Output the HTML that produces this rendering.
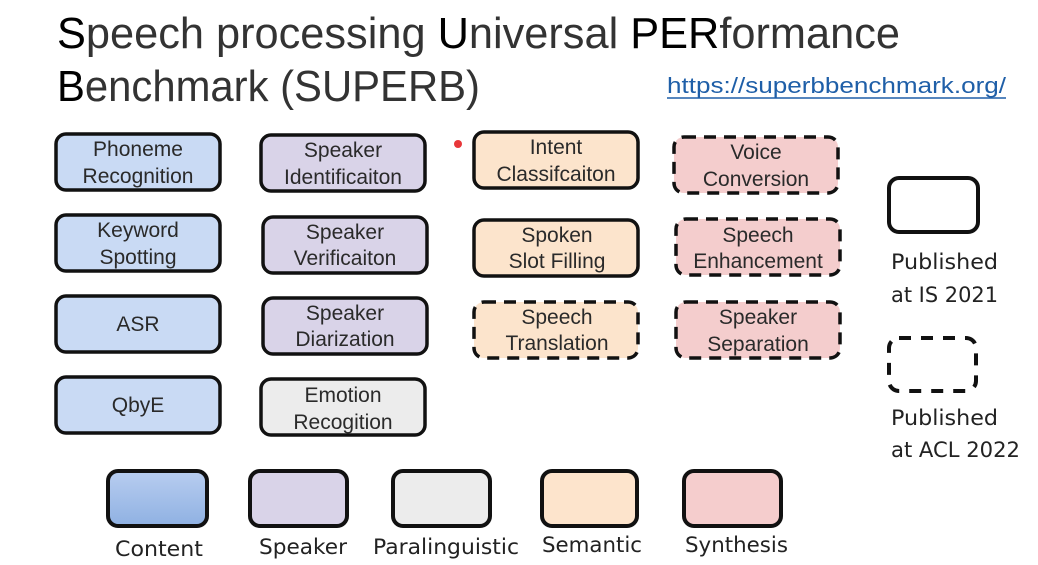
<!DOCTYPE html>
<html><head><meta charset="utf-8"><style>
html,body{margin:0;padding:0;background:#fff;width:1038px;height:565px;overflow:hidden}
svg text{font-family:"Liberation Sans",sans-serif}
.t{font-size:21px;fill:#2a2a2a;text-anchor:middle}
.c{font-family:"DejaVu Sans","Liberation Sans",sans-serif !important;font-size:21px;fill:#222}
</style></head><body>
<svg width="1038" height="565" viewBox="0 0 1038 565" xmlns="http://www.w3.org/2000/svg">
<defs>
<linearGradient id="bl" x1="0" y1="0" x2="0" y2="1"><stop offset="0" stop-color="#b8cdf0"/><stop offset="1" stop-color="#8fb1e2"/></linearGradient>
</defs>
<text x="57" y="48" font-size="44" fill="#333" textLength="843" lengthAdjust="spacingAndGlyphs"><tspan fill="#000">S</tspan>peech processing <tspan fill="#000">U</tspan>niversal <tspan fill="#000">PER</tspan>formance</text>
<text x="57" y="101" font-size="44" fill="#333" textLength="423" lengthAdjust="spacingAndGlyphs"><tspan fill="#000">B</tspan>enchmark (SUPERB)</text>
<text x="667" y="93" font-size="22" fill="#1f5fa8" textLength="339" lengthAdjust="spacingAndGlyphs">https://superbbenchmark.org/</text>
<line x1="667" y1="98" x2="1006" y2="98" stroke="#1f5fa8" stroke-width="1.5"/>
<circle cx="458" cy="144" r="4" fill="#e8373a"/>

<g stroke="#111" stroke-width="3.5">
<rect x="56" y="134" width="164" height="56" rx="10" fill="#c9daf4"/>
<rect x="56" y="215" width="164" height="56" rx="10" fill="#c9daf4"/>
<rect x="56" y="296" width="164" height="56" rx="10" fill="#c9daf4"/>
<rect x="56" y="377" width="164" height="56" rx="10" fill="#c9daf4"/>
<rect x="261" y="135" width="164" height="56" rx="10" fill="#d9d3e8"/>
<rect x="263" y="217" width="164" height="56" rx="10" fill="#d9d3e8"/>
<rect x="263" y="298" width="164" height="56" rx="10" fill="#d9d3e8"/>
<rect x="261" y="379" width="164" height="56" rx="10" fill="#ececec"/>
<rect x="474" y="132" width="164" height="56" rx="10" fill="#fce4cc"/>
<rect x="474" y="220" width="164" height="56" rx="10" fill="#fce4cc"/>
<rect x="474" y="302" width="164" height="56" rx="10" fill="#fce4cc" stroke-dasharray="12,8"/>
<rect x="674" y="137" width="164" height="56" rx="10" fill="#f4cdcd" stroke-dasharray="12,8"/>
<rect x="676" y="219" width="164" height="56" rx="10" fill="#f4cdcd" stroke-dasharray="12,8"/>
<rect x="676" y="302" width="164" height="56" rx="10" fill="#f4cdcd" stroke-dasharray="12,8"/>
<rect x="889" y="178" width="89" height="54" rx="10" fill="#fff" stroke-width="4"/>
<rect x="889" y="338" width="87" height="53" rx="10" fill="#fff" stroke-width="4" stroke-dasharray="12,10"/>
<rect x="108" y="471" width="99" height="55" rx="10" fill="url(#bl)" stroke-width="4"/>
<rect x="250" y="471" width="97" height="55" rx="10" fill="#d9d3e8" stroke-width="4"/>
<rect x="393" y="471" width="97" height="55" rx="10" fill="#ececec" stroke-width="4"/>
<rect x="542" y="471" width="95" height="55" rx="10" fill="#fde4cc" stroke-width="4"/>
<rect x="684" y="471" width="97" height="55" rx="10" fill="#f5cdcd" stroke-width="4"/>
</g>

<g>
<text class="t" x="138" y="156">Phoneme</text><text class="t" x="138" y="183">Recognition</text>
<text class="t" x="138" y="237">Keyword</text><text class="t" x="138" y="264">Spotting</text>
<text class="t" x="138" y="331">ASR</text>
<text class="t" x="138" y="412">QbyE</text>
<text class="t" x="343" y="157">Speaker</text><text class="t" x="343" y="184">Identificaiton</text>
<text class="t" x="345" y="239">Speaker</text><text class="t" x="345" y="265">Verificaiton</text>
<text class="t" x="345" y="320">Speaker</text><text class="t" x="345" y="346">Diarization</text>
<text class="t" x="343" y="402">Emotion</text><text class="t" x="343" y="429">Recogition</text>
<text class="t" x="556" y="154">Intent</text><text class="t" x="556" y="181">Classifcaiton</text>
<text class="t" x="557" y="242">Spoken</text><text class="t" x="557" y="268">Slot Filling</text>
<text class="t" x="557" y="324">Speech</text><text class="t" x="557" y="350">Translation</text>
<text class="t" x="756" y="159">Voice</text><text class="t" x="756" y="186">Conversion</text>
<text class="t" x="758" y="242">Speech</text><text class="t" x="758" y="268">Enhancement</text>
<text class="t" x="758" y="324">Speaker</text><text class="t" x="758" y="351">Separation</text>
</g>

<text class="c" x="891" y="269" textLength="107" lengthAdjust="spacingAndGlyphs">Published</text>
<text class="c" x="891" y="302" textLength="107" lengthAdjust="spacingAndGlyphs">at IS 2021</text>
<text class="c" x="891" y="425" textLength="107" lengthAdjust="spacingAndGlyphs">Published</text>
<text class="c" x="891" y="457" textLength="129" lengthAdjust="spacingAndGlyphs">at ACL 2022</text>

<text class="c" x="115" y="556" textLength="88" lengthAdjust="spacingAndGlyphs">Content</text>
<text class="c" x="259" y="554" textLength="88" lengthAdjust="spacingAndGlyphs">Speaker</text>
<text class="c" x="373" y="554" textLength="146" lengthAdjust="spacingAndGlyphs">Paralinguistic</text>
<text class="c" x="542" y="552" textLength="100" lengthAdjust="spacingAndGlyphs">Semantic</text>
<text class="c" x="685" y="552" textLength="103" lengthAdjust="spacingAndGlyphs">Synthesis</text>
</svg>
</body></html>
